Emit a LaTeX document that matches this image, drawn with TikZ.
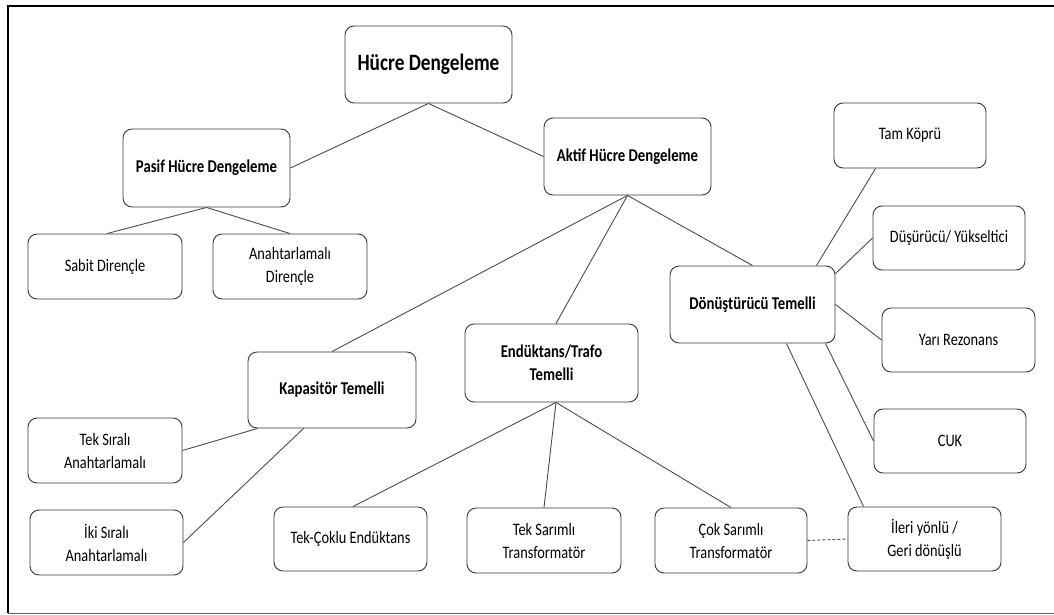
\documentclass[tikz,border=0pt]{standalone}
\usepackage{fontspec}
\setmainfont[FakeStretch=0.82]{Carlito}
\begin{document}
\begin{tikzpicture}[x=1pt,y=-1pt,
  box/.style={draw=black!78, line width=0.9pt, rounded corners=9pt, fill=white,
    inner sep=0pt, align=center, font=\fontsize{17.5}{23}\selectfont},
  bbox/.style={box, font=\fontsize{18}{23}\selectfont\bfseries},
  conn/.style={draw=black!70, line width=0.9pt},
  frame/.style={line width=1.8pt, black}
]
\useasboundingbox (0,0) rectangle (1054,615);
% frame
\draw[frame] (1054,6) -- (8,6) -- (8,613);
\draw[line width=1pt, black!60] (8,613) -- (1054,613);

% nodes
\node[box, font=\fontsize{23.5}{28}\selectfont\bfseries, minimum width=167pt, minimum height=77pt] (hucre) at (428.5,64.5) {Hücre Dengeleme};
\node[bbox, minimum width=167pt, minimum height=78pt] (pasif) at (206.5,168) {Pasif Hücre Dengeleme};
\node[box, minimum width=154pt, minimum height=65pt] (sabit) at (105,266.5) {Sabit Dirençle};
\node[box, minimum width=154pt, minimum height=65pt] (anah) at (290,266.5) {Anahtarlamalı\\Dirençle};
\node[bbox, minimum width=167pt, minimum height=77pt] (aktif) at (627.5,156.5) {Aktif Hücre Dengeleme};
\node[box, minimum width=152pt, minimum height=65pt] (tam) at (910,135.5) {Tam Köprü};
\node[box, minimum width=152pt, minimum height=64pt] (dus) at (949,238) {Düşürücü/ Yükseltici};
\node[bbox, minimum width=165pt, minimum height=77pt] (don) at (752.5,304.5) {Dönüştürücü Temelli};
\node[box, minimum width=153pt, minimum height=64pt] (yari) at (958.5,340) {Yarı Rezonans};
\node[box, minimum width=152pt, minimum height=64pt] (cuk) at (950,441) {CUK};
\node[box, minimum width=153pt, minimum height=64pt] (ileri) at (924.5,539) {İleri yönlü /\\Geri dönüşlü};
\node[box, minimum width=152pt, minimum height=65pt] (cok) at (731,540.5) {Çok Sarımlı\\Transformatör};
\node[box, minimum width=154pt, minimum height=65pt] (teksar) at (544,540.5) {Tek Sarımlı\\Transformatör};
\node[bbox, minimum width=173pt, minimum height=78pt] (end) at (551.5,363) {Endüktans/Trafo\\Temelli};
\node[bbox, minimum width=168pt, minimum height=76pt] (kap) at (332,390) {Kapasitör Temelli};
\node[box, minimum width=154pt, minimum height=65pt] (teks) at (105,450.5) {Tek Sıralı\\Anahtarlamalı};
\node[box, minimum width=153pt, minimum height=65pt] (iki) at (106.5,542.5) {İki Sıralı\\Anahtarlamalı};
\node[box, minimum width=153pt, minimum height=64pt] (tekc) at (350.5,539) {Tek-Çoklu Endüktans};

% connectors
\draw[conn] (hucre.south) -- (pasif.east);
\draw[conn] (hucre.south) -- (aktif.west);
\draw[conn] (pasif.south) -- ([xshift=2pt]sabit.north);
\draw[conn] (pasif.south) -- (anah.north);
\draw[conn] (aktif.south) -- (kap.north);
\draw[conn] (aktif.south) -- ([xshift=4.5pt]end.north);
\draw[conn] (aktif.south) -- (don.north);
\draw[conn] ([xshift=10pt]kap.south west) -- (teks.east);
\draw[conn] ([xshift=56pt]kap.south west) -- (iki.east);
\draw[conn] ([xshift=4.5pt]end.south) -- ([xshift=2.5pt]tekc.north);
\draw[conn] ([xshift=4.5pt]end.south) -- (teksar.north);
\draw[conn] ([xshift=4.5pt]end.south) -- (cok.north);
\draw[conn] ([xshift=-19pt]don.north east) -- ([xshift=42pt]tam.south west);
\draw[conn] ([yshift=-8pt]don.north east) -- (dus.west);
\draw[conn] (don.east) -- (yari.west);
\draw[conn] ([xshift=-10pt]don.south east) -- (cuk.west);
\draw[conn] ([xshift=-49pt]don.south east) -- ([xshift=16pt]ileri.north west);
\draw[conn, dash pattern=on 3pt off 2pt] (cok.east) -- (ileri.west);
\end{tikzpicture}
\end{document}
